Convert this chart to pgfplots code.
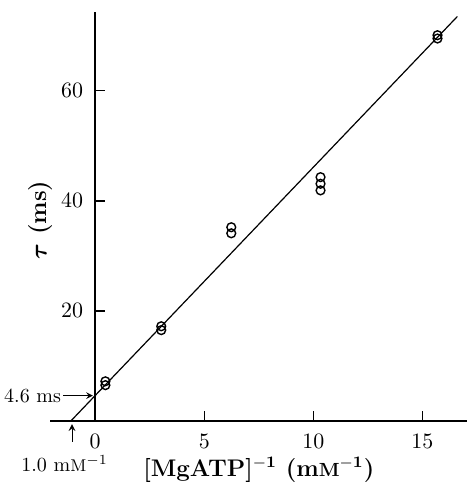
\documentclass[border=0pt]{standalone}
\usepackage{amsmath,amssymb,bm}
\usepackage{pgfplots}
\pgfplotsset{compat=1.18}
\newcommand{\smM}{{\fontsize{8.5}{10}\selectfont M}}
\begin{document}
\begin{tikzpicture}
\begin{axis}[
  scale only axis, width=208.4pt, height=204.5pt,
  xmin=-2.06, xmax=17.06, ymin=0, ymax=74.4,
  axis lines=middle,
  axis line style={-},
  x axis line style={line width=0.7pt},
  y axis line style={line width=1.2pt},
  xtick={0,5,10,15}, ytick={20,40,60},
  hide obscured x ticks=false,
  major tick length=5pt,
  tick style={black, line width=0.7pt},
  xtick style={yshift=2.5pt},
  ytick style={xshift=2.5pt},
  ticklabel style={font=\fontsize{11}{13}\selectfont},
  xticklabel style={inner sep=1pt, yshift=-3.2pt},
  clip=false,
]
\addplot[black, line width=0.6pt] coordinates {(-1.11,0) (16.6,73.5)};
\addplot[only marks, mark=o, mark size=2.2pt, mark options={line width=0.7pt}] coordinates {
  (0.47,7.2) (0.47,6.5)
  (3.03,17.2) (3.03,16.5)
  (6.24,35.2) (6.24,34.1)
  (10.33,44.3) (10.33,43.1) (10.33,41.9)
  (15.69,70.1) (15.69,69.5)
};
\draw[-stealth, line width=0.5pt] (axis cs:-1.45,4.6) -- (axis cs:-0.1,4.6);
\node[anchor=east, font=\fontsize{10}{12}\selectfont, inner sep=0.5pt] at (axis cs:-1.5,4.6) {4.6 ms};
\draw[-stealth, line width=0.5pt] (axis cs:-1.06,-3.8) -- (axis cs:-1.06,-0.6);
\node[font=\fontsize{10}{12}\selectfont, inner sep=0pt] at (axis cs:-1.4,-7.8) {1.0 m\smM$^{-1}$};
\node[font=\fontsize{12}{14}\selectfont\bfseries] at (axis cs:7.5,-8.9) {[MgATP]$^{\mathbf{-1}}$ (m{\fontsize{9.5}{11}\selectfont M}$^{\mathbf{-1}}$)};
\node[rotate=90, font=\fontsize{12}{14}\selectfont\bfseries] at (axis cs:-2.5,36.5) {$\bm{\tau}$ (ms)};
\coordinate (bl) at (axis cs:-4.36,-13.1);
\coordinate (tr) at (axis cs:17.06,76.5);
\end{axis}
\pgfresetboundingbox
\path (bl) rectangle (tr);
\end{tikzpicture}
\end{document}
